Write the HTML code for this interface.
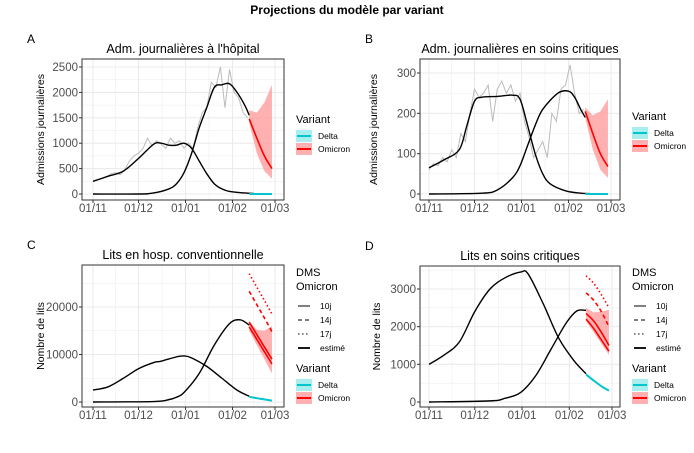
<!DOCTYPE html>
<html><head><meta charset="utf-8"><style>
body{margin:0;background:#fff;font-family:"Liberation Sans",sans-serif}
svg text{font-family:"Liberation Sans",sans-serif}
</style></head><body>
<svg id="s" width="694" height="448" viewBox="0 0 694 448" xmlns="http://www.w3.org/2000/svg">
<text x="347" y="14" text-anchor="middle" font-size="12" font-weight="bold">Projections du modèle par variant</text>
</svg>
<script>
const xTickLabels=["01/11","01/12","01/01","01/02","01/03"];
const xTickDays=[0,30,61,92,120];
// Panel A
const aDeltaDays=[0,10,20,30,40,45,50,55,60,65,70,75,80,85,90,100,106];
const aDeltaVals=[250,350,450,700,980,1000,960,960,1000,900,650,400,200,100,50,20,10];
const aOmiDays=[0,30,40,50,55,60,65,70,75,80,85,90,95,100,103];
const aOmiVals=[0,0,20,100,200,420,800,1300,1700,2100,2150,2170,2000,1750,1550];
const aObsDays=[0,3,6,9,12,15,18,21,24,27,30,33,36,39,42,45,48,51,54,57,60,63,66,69,72,75,78,81,84,87,90,93,96,99,102];
const aObsVals=[250,280,300,340,400,420,380,480,650,750,800,900,1100,950,1050,980,900,1100,1000,1050,900,1000,900,1300,1600,1700,2200,2100,2500,1700,2450,2000,1900,1600,1500];
const aProjDays=[103,108,113,118];
const aProjVals=[1480,1100,750,500];
const aBandHi=[1650,1600,1800,2150];
const aBandLo=[1400,800,450,300];
const aDeltaProj=[0,0,0,0];
// Panel B
const bDeltaDays=[0,10,20,25,30,35,45,55,60,65,70,75,80,90,100,106];
const bDeltaVals=[65,85,110,170,230,240,242,245,235,170,100,50,25,8,2,1];
const bOmiDays=[0,35,45,55,60,65,70,75,85,92,96,100,103];
const bOmiVals=[0,2,10,40,70,120,170,210,250,255,240,210,190];
const bObsDays=[0,3,6,9,12,15,18,21,24,27,30,33,36,39,42,45,48,51,54,57,60,63,66,69,72,75,78,81,84,87,90,93,96,99,102];
const bObsVals=[60,75,70,90,80,110,90,150,130,200,260,240,250,270,180,260,280,250,270,230,250,180,140,90,110,130,90,200,180,260,270,320,250,200,210];
const bProjVals=[205,150,100,68];
const bBandHi=[215,195,205,235];
const bBandLo=[190,110,60,40];
const bDeltaProj=[0,0,0,0];
// Panel C
const cDeltaDays=[0,10,20,30,40,45,55,60,65,75,85,95,103];
const cDeltaVals=[2500,3200,5000,7000,8300,8600,9500,9700,9300,7500,5000,2500,1200];
const cOmiDays=[0,40,50,55,60,70,80,90,97,103];
const cOmiVals=[0,100,500,1000,2000,6000,12000,16500,17300,16200];
const cEst=[15800,13200,10600,8000];
const c10=[16800,14200,11600,9000];
const c14=[23300,20500,17700,14800];
const c17=[27000,24200,21400,18500];
const cBandHi=[17000,15200,15000,16000];
const cBandLo=[15000,12000,9000,6000];
const cDeltaProj=[1100,800,550,300];
// Panel D
const dDeltaDays=[0,10,20,30,40,50,60,65,75,85,95,103];
const dDeltaVals=[1000,1250,1600,2400,3000,3300,3450,3400,2600,1700,1100,750];
const dOmiDays=[0,40,50,60,70,80,90,97,103];
const dOmiVals=[0,30,100,250,700,1400,2100,2420,2430];
const dEst=[2350,2150,1850,1500];
const d10=[2200,1950,1650,1350];
const d14=[2900,2700,2400,2000];
const d17=[3350,3150,2850,2500];
const dBandHi=[2500,2380,2400,2450];
const dBandLo=[2150,1850,1550,1250];
const dDeltaProj=[730,570,420,300];

const S=document.getElementById('s');
const NS='http://www.w3.org/2000/svg';
function mk(tag,attrs,parent,text){const e=document.createElementNS(NS,tag);for(const k in attrs)e.setAttribute(k,attrs[k]);if(text!==undefined)e.textContent=text;(parent||S).appendChild(e);return e;}
function smooth(pts){if(pts.length<2)return'';let d='M'+pts[0][0]+','+pts[0][1];for(let i=0;i<pts.length-1;i++){const p0=pts[i-1]||pts[i],p1=pts[i],p2=pts[i+1],p3=pts[i+2]||p2;const c1=[p1[0]+(p2[0]-p0[0])/6,p1[1]+(p2[1]-p0[1])/6],c2=[p2[0]-(p3[0]-p1[0])/6,p2[1]-(p3[1]-p1[1])/6];d+=' C'+c1+' '+c2+' '+p2;}return d;}
function lin(pts){return 'M'+pts.map(p=>p.join(',')).join(' L');}

function panel(cfg){
  const g=mk('g',{});
  
  
  const X=d=>cfg.x0+(cfg.x1-cfg.x0)*d/120;
  const Y=v=>cfg.y0-(cfg.y0-cfg.y1)*v/cfg.yref;
  mk('rect',{x:cfg.L,y:cfg.T,width:cfg.R-cfg.L,height:cfg.B-cfg.T,fill:'#fff'},g);
  // grid
  const gg=mk('g',{stroke:'#ebebeb'},g);
  
  for(let i=0;i<xTickDays.length;i++){mk('line',{x1:X(xTickDays[i]),x2:X(xTickDays[i]),y1:cfg.T,y2:cfg.B,'stroke-width':1.1},gg);
    if(i<xTickDays.length-1){const m=(xTickDays[i]+xTickDays[i+1])/2;mk('line',{x1:X(m),x2:X(m),y1:cfg.T,y2:cfg.B,'stroke-width':0.5},gg);}}
  for(let i=0;i<cfg.yticks.length;i++){const v=cfg.yticks[i];mk('line',{x1:cfg.L,x2:cfg.R,y1:Y(v),y2:Y(v),'stroke-width':1.1},gg);
    const m=v+cfg.ystep/2;if(Y(m)>cfg.T)mk('line',{x1:cfg.L,x2:cfg.R,y1:Y(m),y2:Y(m),'stroke-width':0.5},gg);}
  // ticks labels
  for(let i=0;i<xTickDays.length;i++){const t=mk('text',{x:X(xTickDays[i]),y:cfg.B+12,'text-anchor':'middle','font-size':11.5,fill:'#4d4d4d'},g,xTickLabels[i]);
    mk('line',{x1:X(xTickDays[i]),x2:X(xTickDays[i]),y1:cfg.B,y2:cfg.B+3,stroke:'#333'},g);}
  for(const v of cfg.yticks){const t=mk('text',{x:cfg.L-4,y:Y(v)+4,'text-anchor':'end','font-size':11.5,fill:'#4d4d4d'},g,String(v));
    mk('line',{x1:cfg.L-3,x2:cfg.L,y1:Y(v),y2:Y(v),stroke:'#333'},g);}
  // obs
  if(cfg.obsD){const p=mk('path',{d:lin(cfg.obsD.map((d,i)=>[X(d),Y(cfg.obsV[i])])),fill:'none',stroke:'#bbb','stroke-width':1},g);}
  // band
  const pd=[103,108,113,118];
  const band=pd.map((d,i)=>[X(d),Y(cfg.hi[i])]).concat(pd.map((d,i)=>[X(d),Y(cfg.lo[i])]).reverse());
  const b=mk('path',{d:lin(band)+'Z',fill:'#ff9e9e',opacity:0.8},g);
  const l1=mk('path',{d:smooth(cfg.dD.map((d,i)=>[X(d),Y(cfg.dV[i])])),fill:'none',stroke:'#000','stroke-width':1.4},g);
  const l2=mk('path',{d:smooth(cfg.oD.map((d,i)=>[X(d),Y(cfg.oV[i])])),fill:'none',stroke:'#000','stroke-width':1.4},g);
  for(const [arr,dash,nm] of cfg.proj){const p=mk('path',{d:smooth(pd.map((d,i)=>[X(d),Y(arr[i])])),fill:'none',stroke:'#ff0000','stroke-width':1.6,'stroke-dasharray':dash},g);}
  const dp=mk('path',{d:smooth(pd.map((d,i)=>[X(d),Y(cfg.deltaProj[i])])),fill:'none',stroke:'#00c5cd','stroke-width':2},g);
  mk('rect',{x:cfg.L,y:cfg.T,width:cfg.R-cfg.L,height:cfg.B-cfg.T,fill:'none',stroke:'#333','stroke-width':1},g);
  const tt=mk('text',{x:(cfg.L+cfg.R)/2,y:cfg.T-6,'text-anchor':'middle','font-size':12.5},g,cfg.title);
  const lt=mk('text',{x:cfg.L-55,y:cfg.T-16,'font-size':12},g,cfg.letter);
  const yc=(cfg.T+cfg.B)/2;const ya=mk('text',{x:0,y:0,'text-anchor':'middle','font-size':10.5,transform:`translate(${cfg.ytx},${yc}) rotate(-90)`},g,cfg.ytitle);
  // legend
  const lx=cfg.R+12;let ly=cfg.legY;
  const lg=mk('g',{},g);
  if(cfg.dms){mk('text',{x:lx,y:ly,'font-size':11},lg,'DMS');mk('text',{x:lx,y:ly+14,'font-size':11},lg,'Omicron');
    const items=[['10j',''],['14j','4,3'],['17j','1.5,2.5'],['estimé','']];
    items.forEach((it,i)=>{const yy=ly+30+i*14;mk('line',{x1:lx+2,x2:lx+14,y1:yy,y2:yy,stroke:'#000','stroke-width':i==3?1.8:1,'stroke-dasharray':it[1]},lg);const e=mk('text',{x:lx+24,y:yy+3,'font-size':8.5},lg,it[0]);});
    ly+=96;}
  mk('text',{x:lx,y:ly,'font-size':11},lg,'Variant');
  [['Delta','#a8eeee','#00c5cd'],['Omicron','#ffb0b0','#ff0000']].forEach((it,i)=>{const yy=ly+13+i*13;mk('rect',{x:lx,y:yy-6,width:16,height:12,fill:it[1]},lg);mk('line',{x1:lx+1,x2:lx+15,y1:yy,y2:yy,stroke:it[2],'stroke-width':2},lg);const e=mk('text',{x:lx+22,y:yy+3,'font-size':8.5},lg,it[0]);});
}
panel({name:'panel-a',letter:'A',title:"Adm. journalières à l'hôpital",ytitle:'Admissions journalières',L:82,R:284,T:59,B:200,x0:93,x1:275,y0:194,y1:67,yref:2500,yticks:[0,500,1000,1500,2000,2500],ystep:500,ytx:44,
 obsD:aObsDays,obsV:aObsVals,dD:aDeltaDays,dV:aDeltaVals,oD:aOmiDays,oV:aOmiVals,hi:aBandHi,lo:aBandLo,proj:[[aProjVals,'','omicron-projection']],deltaProj:aDeltaProj,legY:123});
panel({name:'panel-b',letter:'B',title:"Adm. journalières en soins critiques",ytitle:'Admissions journalières',L:420,R:620,T:59,B:200,x0:429,x1:611,y0:194,y1:73,yref:300,yticks:[0,100,200,300],ystep:100,ytx:377,
 obsD:bObsDays,obsV:bObsVals,dD:bDeltaDays,dV:bDeltaVals,oD:bOmiDays,oV:bOmiVals,hi:bBandHi,lo:bBandLo,proj:[[bProjVals,'','omicron-projection']],deltaProj:bDeltaProj,legY:120});
panel({name:'panel-c',letter:'C',title:"Lits en hosp. conventionnelle",ytitle:'Nombre de lits',L:82,R:284,T:265,B:407,x0:93,x1:275,y0:402,y1:307,yref:20000,yticks:[0,10000,20000],ystep:10000,ytx:44,dms:true,
 dD:cDeltaDays,dV:cDeltaVals,oD:cOmiDays,oV:cOmiVals,hi:cBandHi,lo:cBandLo,proj:[[c10,'','omicron-10j'],[c14,'4,3','omicron-14j'],[c17,'1.5,2.5','omicron-17j'],[cEst,'','omicron-estime']],deltaProj:cDeltaProj,legY:276});
panel({name:'panel-d',letter:'D',title:"Lits en soins critiques",ytitle:'Nombre de lits',L:420,R:620,T:266,B:407,x0:429,x1:612,y0:402,y1:289,yref:3000,yticks:[0,1000,2000,3000],ystep:1000,ytx:380,dms:true,
 dD:dDeltaDays,dV:dDeltaVals,oD:dOmiDays,oV:dOmiVals,hi:dBandHi,lo:dBandLo,proj:[[d10,'','omicron-10j'],[d14,'4,3','omicron-14j'],[d17,'1.5,2.5','omicron-17j'],[dEst,'','omicron-estime']],deltaProj:dDeltaProj,legY:276});
</script>
</body></html>
